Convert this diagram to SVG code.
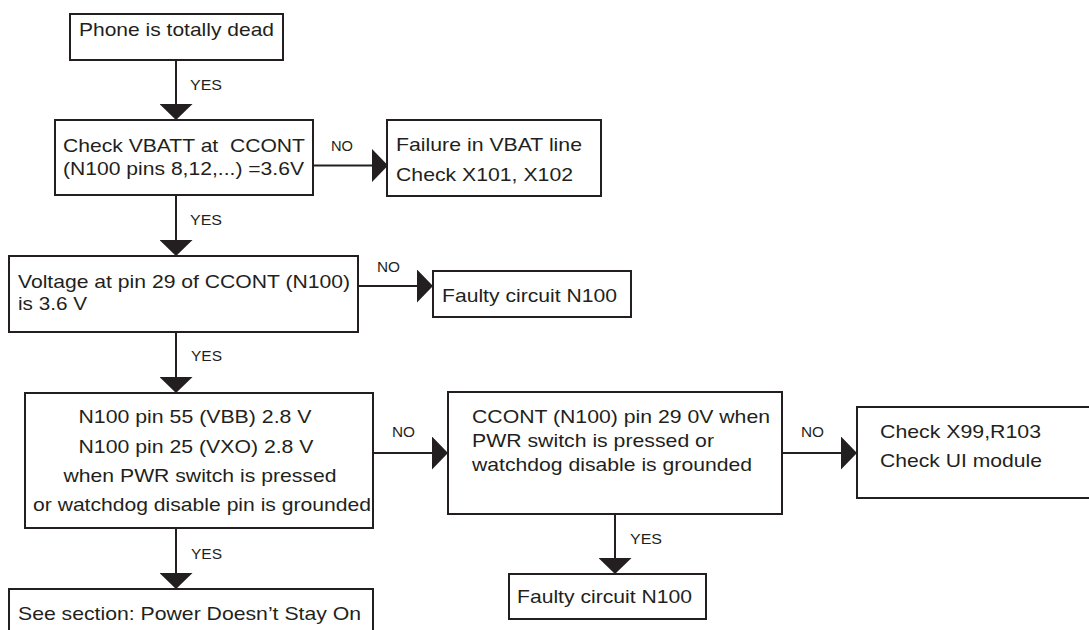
<svg xmlns="http://www.w3.org/2000/svg" width="1089" height="630" viewBox="0 0 1089 630">
  <style>
    .box { fill: #ffffff; stroke: #231f20; stroke-width: 2; }
    .txt { font-family: "Liberation Sans", Arial, sans-serif; font-size: 19px; fill: #231f20; }
    .lbl { font-family: "Liberation Sans", Arial, sans-serif; font-size: 14px; fill: #231f20; }
    .mid { text-anchor: middle; }
    .conn { stroke: #231f20; stroke-width: 2; fill: none; marker-end: url(#head); }
  </style>
  <defs>
    <marker id="head" markerUnits="userSpaceOnUse" markerWidth="17" markerHeight="33" refX="16" refY="16.5" orient="auto">
      <path d="M0,0 L16,16.5 L0,33 Z" fill="#231f20"/>
    </marker>
  </defs>
  <rect width="1089" height="630" fill="#ffffff"/>

  <!-- connectors -->
  <g id="connectors">
    <line class="conn" x1="176" y1="60" x2="176" y2="120"/>
    <line class="conn" x1="313" y1="165.5" x2="388" y2="165.5"/>
    <line class="conn" x1="176" y1="195" x2="176" y2="256"/>
    <line class="conn" x1="358" y1="286" x2="433" y2="286"/>
    <line class="conn" x1="176" y1="332" x2="176" y2="393"/>
    <line class="conn" x1="373" y1="453" x2="448" y2="453"/>
    <line class="conn" x1="782" y1="453" x2="857" y2="453"/>
    <line class="conn" x1="615" y1="514" x2="615" y2="574"/>
    <line class="conn" x1="176" y1="528" x2="176" y2="589"/>

    <text class="lbl" x="190" y="90" textLength="32" lengthAdjust="spacingAndGlyphs">YES</text>
    <text class="lbl" x="331" y="151" textLength="22" lengthAdjust="spacingAndGlyphs">NO</text>
    <text class="lbl" x="190" y="225" textLength="32" lengthAdjust="spacingAndGlyphs">YES</text>
    <text class="lbl" x="377" y="272" textLength="23" lengthAdjust="spacingAndGlyphs">NO</text>
    <text class="lbl" x="191" y="361" textLength="31" lengthAdjust="spacingAndGlyphs">YES</text>
    <text class="lbl" x="392" y="437" textLength="23" lengthAdjust="spacingAndGlyphs">NO</text>
    <text class="lbl" x="801" y="437" textLength="23" lengthAdjust="spacingAndGlyphs">NO</text>
    <text class="lbl" x="630" y="544" textLength="32" lengthAdjust="spacingAndGlyphs">YES</text>
    <text class="lbl" x="191" y="559" textLength="31" lengthAdjust="spacingAndGlyphs">YES</text>
  </g>

  <g id="dead">
    <rect class="box" x="70" y="14" width="213" height="46"/>
    <text class="txt" x="79" y="36" textLength="195" lengthAdjust="spacingAndGlyphs">Phone is totally dead</text>
  </g>

  <g id="vbatt">
    <rect class="box" x="55" y="120" width="258" height="75"/>
    <text class="txt" x="63" y="152" textLength="242" lengthAdjust="spacingAndGlyphs">Check VBATT at&#160; CCONT</text>
    <text class="txt" x="63" y="175" textLength="241" lengthAdjust="spacingAndGlyphs">(N100 pins 8,12,...) =3.6V</text>
  </g>

  <g id="vbat-fail">
    <rect class="box" x="387" y="120" width="214" height="76"/>
    <text class="txt" x="396" y="151" textLength="186" lengthAdjust="spacingAndGlyphs">Failure in VBAT line</text>
    <text class="txt" x="396" y="181" textLength="177" lengthAdjust="spacingAndGlyphs">Check X101, X102</text>
  </g>

  <g id="pin29">
    <rect class="box" x="9" y="256" width="349" height="76"/>
    <text class="txt" x="18" y="288" textLength="332" lengthAdjust="spacingAndGlyphs">Voltage at pin 29 of CCONT (N100)</text>
    <text class="txt" x="18" y="310" textLength="69" lengthAdjust="spacingAndGlyphs">is 3.6 V</text>
  </g>

  <g id="faulty-1">
    <rect class="box" x="433" y="271" width="198" height="46"/>
    <text class="txt" x="442" y="302" textLength="175" lengthAdjust="spacingAndGlyphs">Faulty circuit N100</text>
  </g>

  <g id="vbb-vxo">
    <rect class="box" x="25" y="393" width="348" height="135"/>
    <text class="txt mid" x="195" y="423" textLength="233" lengthAdjust="spacingAndGlyphs">N100 pin 55 (VBB) 2.8 V</text>
    <text class="txt mid" x="196" y="453" textLength="235" lengthAdjust="spacingAndGlyphs">N100 pin 25 (VXO) 2.8 V</text>
    <text class="txt mid" x="200" y="482" textLength="273" lengthAdjust="spacingAndGlyphs">when PWR switch is pressed</text>
    <text class="txt mid" x="202" y="511" textLength="338" lengthAdjust="spacingAndGlyphs">or watchdog disable pin is grounded</text>
  </g>

  <g id="pin29-0v">
    <rect class="box" x="448" y="392" width="334" height="122"/>
    <text class="txt" x="472" y="423" textLength="298" lengthAdjust="spacingAndGlyphs">CCONT (N100) pin 29 0V when</text>
    <text class="txt" x="472" y="447" textLength="242" lengthAdjust="spacingAndGlyphs">PWR switch is pressed or</text>
    <text class="txt" x="472" y="471" textLength="280" lengthAdjust="spacingAndGlyphs">watchdog disable is grounded</text>
  </g>

  <g id="check-ui">
    <rect class="box" x="857" y="407" width="240" height="91"/>
    <text class="txt" x="880" y="438" textLength="161" lengthAdjust="spacingAndGlyphs">Check X99,R103</text>
    <text class="txt" x="880" y="467" textLength="162" lengthAdjust="spacingAndGlyphs">Check UI module</text>
  </g>

  <g id="faulty-2">
    <rect class="box" x="509" y="574" width="197" height="45"/>
    <text class="txt" x="517" y="603" textLength="175" lengthAdjust="spacingAndGlyphs">Faulty circuit N100</text>
  </g>

  <g id="power-stay-on">
    <rect class="box" x="9" y="589" width="364" height="60"/>
    <text class="txt" x="18" y="620" textLength="343" lengthAdjust="spacingAndGlyphs">See section: Power Doesn’t Stay On</text>
  </g>
</svg>
